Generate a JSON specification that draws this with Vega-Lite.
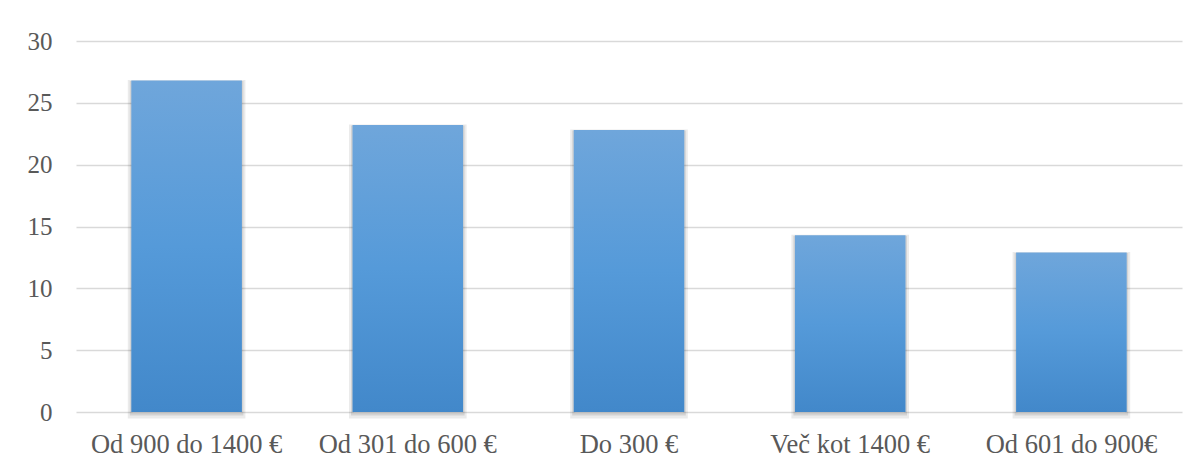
{
  "$schema": "https://vega.github.io/schema/vega-lite/v6.json",
  "autosize": {"type": "none"},
  "width": 1106,
  "height": 371,
  "padding": {"left": 76, "top": 41, "right": 18, "bottom": 55},
  "background": "#ffffff",
  "config": {
    "view": {"stroke": null},
    "font": "Liberation Serif",
    "axis": {
      "labelFont": "Liberation Serif",
      "labelColor": "#595959",
      "labelFontSize": 25,
      "labelLimit": 0,
      "domain": false,
      "ticks": false,
      "title": null
    }
  },
  "data": {
    "values": [
      {"kategorija": "Od 900 do 1400 €", "delez": 26.8},
      {"kategorija": "Od 301 do 600 €", "delez": 23.2},
      {"kategorija": "Do 300 €", "delez": 22.8},
      {"kategorija": "Več kot 1400 €", "delez": 14.3},
      {"kategorija": "Od 601 do 900€", "delez": 12.9}
    ]
  },
  "encoding": {
    "x": {
      "field": "kategorija",
      "type": "nominal",
      "sort": null,
      "scale": {"paddingInner": 0.5, "paddingOuter": 0.25},
      "axis": {"labelAngle": 0, "labelPadding": 19, "labelFontSize": 26.5, "grid": false}
    },
    "y": {
      "field": "delez",
      "type": "quantitative",
      "scale": {"domain": [0, 30], "nice": false},
      "axis": {
        "values": [0, 5, 10, 15, 20, 25, 30],
        "labelPadding": 24,
        "grid": true,
        "gridColor": "#d9d9d9",
        "gridWidth": 1.6
      }
    }
  },
  "layer": [
    {
      "mark": {
        "type": "bar",
        "fill": null,
        "stroke": "#000000",
        "strokeOpacity": 0.08,
        "strokeWidth": 7,
        "yOffset": 3,
        "y2Offset": 3
      }
    },
    {
      "mark": {
        "type": "bar",
        "fill": null,
        "stroke": "#000000",
        "strokeOpacity": 0.1,
        "strokeWidth": 3,
        "yOffset": 2,
        "y2Offset": 2
      }
    },
    {
      "mark": {
        "type": "bar",
        "color": {
          "gradient": "linear",
          "x1": 0, "y1": 0, "x2": 0, "y2": 1,
          "stops": [
            {"offset": 0, "color": "#6fa6db"},
            {"offset": 0.5, "color": "#559ad9"},
            {"offset": 1, "color": "#4288ca"}
          ]
        }
      }
    }
  ]
}
